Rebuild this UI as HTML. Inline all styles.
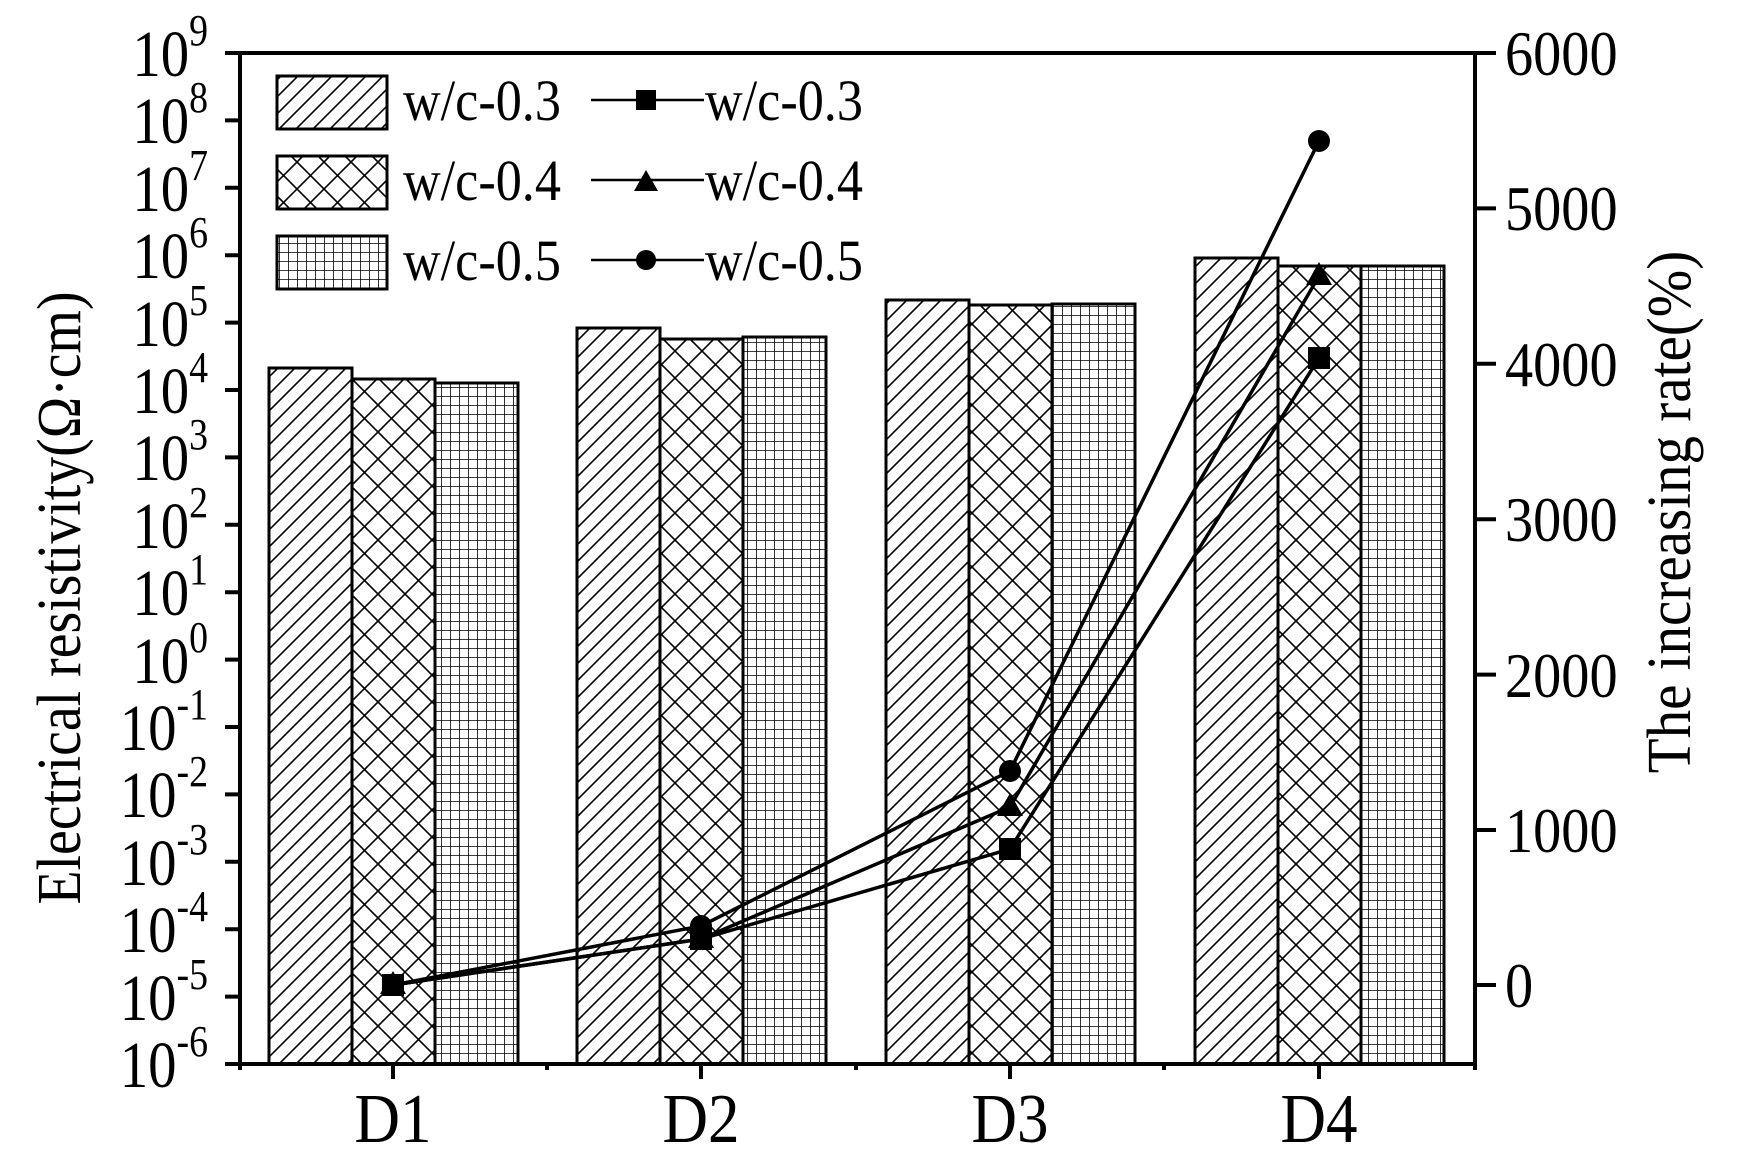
<!DOCTYPE html>
<html><head><meta charset="utf-8"><style>
html,body{margin:0;padding:0;background:#fff;}
svg{display:block;}
text{font-family:"Liberation Serif",serif;fill:#000;}
</style></head><body>
<svg width="1746" height="1176" viewBox="0 0 1746 1176" xmlns="http://www.w3.org/2000/svg">
<defs>
<pattern id="diag" patternUnits="userSpaceOnUse" width="17" height="17">
<path d="M-2,19 L19,-2 M-2,2 L2,-2 M15,19 L19,15" stroke="#000" stroke-width="1.6"/>
</pattern>
<pattern id="cross" patternUnits="userSpaceOnUse" width="27" height="27">
<path d="M0,0 L27,27 M27,0 L0,27" stroke="#000" stroke-width="1.6"/>
</pattern>
<pattern id="grid" patternUnits="userSpaceOnUse" width="9" height="9">
<path d="M0,0 H9 M0,0 V9" stroke="#000" stroke-width="1.6"/>
</pattern>
</defs>
<rect width="1746" height="1176" fill="#fff"/>

<g stroke="#000" stroke-width="3">
<rect x="269" y="368" width="83" height="696" fill="url(#diag)"/>
<rect x="352" y="379" width="83" height="685" fill="url(#cross)"/>
<rect x="435" y="383" width="83" height="681" fill="url(#grid)"/>
<rect x="577" y="328" width="83" height="736" fill="url(#diag)"/>
<rect x="660" y="339" width="83" height="725" fill="url(#cross)"/>
<rect x="743" y="337" width="83" height="727" fill="url(#grid)"/>
<rect x="886" y="300" width="83" height="764" fill="url(#diag)"/>
<rect x="969" y="305" width="83" height="759" fill="url(#cross)"/>
<rect x="1052" y="304" width="83" height="760" fill="url(#grid)"/>
<rect x="1195" y="258" width="83" height="806" fill="url(#diag)"/>
<rect x="1278" y="266" width="83" height="798" fill="url(#cross)"/>
<rect x="1361" y="266" width="83" height="798" fill="url(#grid)"/>
</g>

<g stroke="#000" stroke-width="4" fill="none">
<path d="M240,53 H1475 M240,53 V1064 H1475 V53"/>
<path d="M225,53 H240 M225,120.4 H240 M225,187.8 H240 M225,255.2 H240 M225,322.6 H240 M225,390 H240 M225,457.4 H240 M225,524.8 H240 M225,592.2 H240 M225,659.6 H240 M225,727 H240 M225,794.4 H240 M225,861.8 H240 M225,929.2 H240 M225,996.6 H240 M225,1064 H240"/>
<path d="M1475,53 H1496 M1475,208.4 H1496 M1475,363.8 H1496 M1475,519.2 H1496 M1475,674.6 H1496 M1475,830 H1496 M1475,985 H1496"/>
<path d="M393,1064 V1079 M701,1064 V1079 M1010,1064 V1079 M1319,1064 V1079 M240,1064 V1070 M547,1064 V1070 M856,1064 V1070 M1164,1064 V1070 M1475,1064 V1070"/>
</g>

<g font-size="66" text-anchor="end" transform="translate(208,0) scale(0.86,1) translate(-208,0)">
<text x="208" y="76">10<tspan font-size="44" dy="-31">9</tspan></text>
<text x="208" y="143">10<tspan font-size="44" dy="-31">8</tspan></text>
<text x="208" y="211">10<tspan font-size="44" dy="-31">7</tspan></text>
<text x="208" y="278">10<tspan font-size="44" dy="-31">6</tspan></text>
<text x="208" y="346">10<tspan font-size="44" dy="-31">5</tspan></text>
<text x="208" y="413">10<tspan font-size="44" dy="-31">4</tspan></text>
<text x="208" y="480">10<tspan font-size="44" dy="-31">3</tspan></text>
<text x="208" y="548">10<tspan font-size="44" dy="-31">2</tspan></text>
<text x="208" y="615">10<tspan font-size="44" dy="-31">1</tspan></text>
<text x="208" y="683">10<tspan font-size="44" dy="-31">0</tspan></text>
<text x="208" y="750">10<tspan font-size="44" dy="-31">-1</tspan></text>
<text x="208" y="817">10<tspan font-size="44" dy="-31">-2</tspan></text>
<text x="208" y="885">10<tspan font-size="44" dy="-31">-3</tspan></text>
<text x="208" y="952">10<tspan font-size="44" dy="-31">-4</tspan></text>
<text x="208" y="1020">10<tspan font-size="44" dy="-31">-5</tspan></text>
<text x="208" y="1087">10<tspan font-size="44" dy="-31">-6</tspan></text>
</g>

<g font-size="64" transform="translate(1505,0) scale(0.88,1) translate(-1505,0)">
<text x="1505" y="75">6000</text>
<text x="1505" y="230">5000</text>
<text x="1505" y="386">4000</text>
<text x="1505" y="541">3000</text>
<text x="1505" y="697">2000</text>
<text x="1505" y="852">1000</text>
<text x="1505" y="1007">0</text>
</g>

<g font-size="70" text-anchor="middle">
<text x="393" y="1142" transform="translate(393,0) scale(0.9,1) translate(-393,0)">D1</text>
<text x="701" y="1142" transform="translate(701,0) scale(0.9,1) translate(-701,0)">D2</text>
<text x="1010" y="1142" transform="translate(1010,0) scale(0.9,1) translate(-1010,0)">D3</text>
<text x="1319" y="1142" transform="translate(1319,0) scale(0.9,1) translate(-1319,0)">D4</text>
</g>

<text font-size="62" text-anchor="middle" transform="translate(80,598) rotate(-90) scale(0.9,1)">Electrical resistivity(Ω·cm)</text>
<text font-size="62" text-anchor="middle" transform="translate(1690,512) rotate(-90) scale(0.92,1)">The increasing rate(%)</text>

<g stroke="#000" stroke-width="3.5" fill="none">
<polyline points="393,985 701,939 1010,849 1319,358"/>
<polyline points="393,985 701,939 1010,807 1319,276"/>
<polyline points="393,985 701,926 1010,771 1319,141"/>
</g>
<g fill="#000">
<rect x="382" y="974" width="22" height="22"/>
<rect x="690" y="928" width="22" height="22"/>
<rect x="999" y="838" width="22" height="22"/>
<rect x="1308" y="347" width="22" height="22"/>
<polygon points="393,971 406,994 380,994"/>
<polygon points="701,925 714,948 688,948"/>
<polygon points="1010,793 1023,816 997,816"/>
<polygon points="1319,262 1332,285 1306,285"/>
<circle cx="393" cy="985" r="11"/>
<circle cx="701" cy="926" r="11"/>
<circle cx="1010" cy="771" r="11"/>
<circle cx="1319" cy="141" r="11"/>
</g>

<g stroke="#000" stroke-width="3">
<rect x="277" y="76" width="110" height="53" fill="url(#diag)"/>
<rect x="277" y="156" width="110" height="53" fill="url(#cross)"/>
<rect x="277" y="236" width="110" height="53" fill="url(#grid)"/>
<path d="M591,100 H704 M591,180 H704 M591,260 H704" stroke-width="2.5"/>
</g>
<g fill="#000">
<rect x="636" y="90" width="20" height="20"/>
<polygon points="646,170 658,191 634,191"/>
<circle cx="646" cy="260" r="10"/>
</g>
<g font-size="58">
<text x="403" y="120" transform="translate(403,0) scale(0.9,1) translate(-403,0)">w/c-0.3</text>
<text x="403" y="200" transform="translate(403,0) scale(0.9,1) translate(-403,0)">w/c-0.4</text>
<text x="403" y="280" transform="translate(403,0) scale(0.9,1) translate(-403,0)">w/c-0.5</text>
<text x="705" y="120" transform="translate(705,0) scale(0.9,1) translate(-705,0)">w/c-0.3</text>
<text x="705" y="200" transform="translate(705,0) scale(0.9,1) translate(-705,0)">w/c-0.4</text>
<text x="705" y="280" transform="translate(705,0) scale(0.9,1) translate(-705,0)">w/c-0.5</text>
</g>
</svg>
</body></html>
